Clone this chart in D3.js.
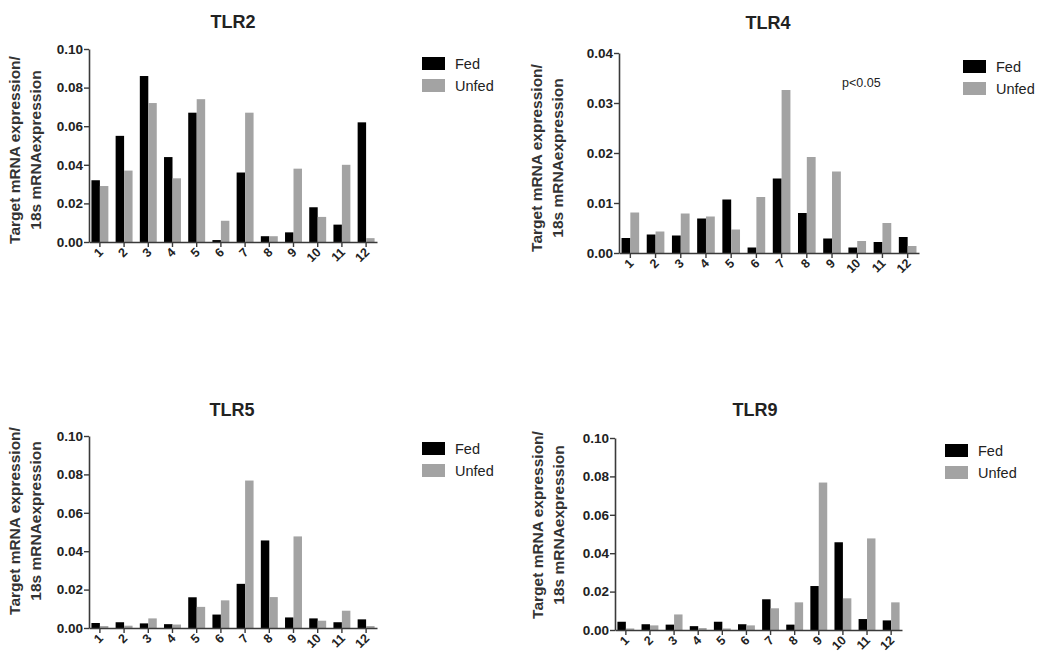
<!DOCTYPE html>
<html><head><meta charset="utf-8">
<script src="https://cdn.jsdelivr.net/npm/d3@7"></script>
<style>
body{margin:0;background:#fff;}
svg text{font-family:"Liberation Sans",Arial,sans-serif;}
</style></head>
<body>
<svg id="chart" width="1050" height="662"></svg>
<script>
const categories = ["1","2","3","4","5","6","7","8","9","10","11","12"];
const seriesNames = ["Fed","Unfed"];
const titles = ["TLR2","TLR4","TLR5","TLR9"];

const tlr2Fed   = [0.032,0.055,0.086,0.044,0.067,0.001,0.036,0.003,0.005,0.018,0.009,0.062];
const tlr2Unfed = [0.029,0.037,0.072,0.033,0.074,0.011,0.067,0.003,0.038,0.013,0.040,0.002];
const tlr4Fed   = [0.0030,0.0037,0.0035,0.0069,0.0107,0.0011,0.0149,0.0080,0.0029,0.0011,0.0022,0.0032];
const tlr4Unfed = [0.0081,0.0043,0.0079,0.0073,0.0047,0.0112,0.0326,0.0192,0.0163,0.0024,0.0060,0.0014];
const tlr5Fed   = [0.0026,0.0030,0.0024,0.0020,0.0160,0.0070,0.0230,0.0456,0.0055,0.0050,0.0030,0.0045];
const tlr5Unfed = [0.0010,0.0012,0.0050,0.0018,0.0110,0.0144,0.0768,0.0161,0.0477,0.0038,0.0090,0.0010];
const tlr9Fed   = [0.0043,0.0030,0.0028,0.0020,0.0043,0.0030,0.0160,0.0028,0.0229,0.0457,0.0057,0.0050];
const tlr9Unfed = [0.0008,0.0024,0.0081,0.0010,0.0008,0.0024,0.0113,0.0144,0.0768,0.0165,0.0477,0.0144];

const yTicks10 = [0,0.02,0.04,0.06,0.08,0.10];
const yTicks4  = [0,0.01,0.02,0.03,0.04];
const yLabelLines = ["Target mRNA expression/","18s mRNAexpression"];
const annotation = "p<0.05";

const colors = {Fed:"#000000", Unfed:"#a3a3a3"};
const axisColor = "#3a3a3a";

const panels = [
  {title:titles[0], fed:tlr2Fed, unfed:tlr2Unfed, yMax:0.10, ticks:yTicks10,
   x0:89, x1:377, y0:242, y1:49, titleX:233, titleY:28, labX:[15,36], labY:150,
   legX:422, legY:57},
  {title:titles[1], fed:tlr4Fed, unfed:tlr4Unfed, yMax:0.04, ticks:yTicks4,
   x0:619, x1:919, y0:253, y1:53, titleX:768, titleY:29, labX:[537,558], labY:158,
   legX:963, legY:60, note:true},
  {title:titles[2], fed:tlr5Fed, unfed:tlr5Unfed, yMax:0.10, ticks:yTicks10,
   x0:89, x1:377, y0:628, y1:436, titleX:232, titleY:416, labX:[15,36], labY:521,
   legX:422, legY:442},
  {title:titles[3], fed:tlr9Fed, unfed:tlr9Unfed, yMax:0.10, ticks:yTicks10,
   x0:615, x1:902, y0:630, y1:438, titleX:755, titleY:416, labX:[538,559], labY:525,
   legX:945, legY:444}
];

const svg = d3.select("#chart");

panels.forEach(p => {
  const g = svg.append("g");
  const x = d3.scaleBand().domain(categories).range([p.x0, p.x1]).paddingInner(0.3).paddingOuter(0.1);
  const xs = d3.scaleBand().domain(seriesNames).range([0, x.bandwidth()]);
  const y = d3.scaleLinear().domain([0, p.yMax]).range([p.y0, p.y1]);

  const rows = categories.map((c,i)=>({cat:c, Fed:p.fed[i], Unfed:p.unfed[i]}));
  const grp = g.selectAll("g.cat").data(rows).join("g")
    .attr("transform", d=>`translate(${x(d.cat)},0)`);
  grp.selectAll("rect").data(d=>seriesNames.map(s=>({s, v:d[s]}))).join("rect")
    .attr("x", d=>xs(d.s)).attr("width", xs.bandwidth())
    .attr("y", d=>y(d.v)).attr("height", d=>y(0)-y(d.v))
    .attr("fill", d=>colors[d.s]);

  // y axis
  const ya = g.append("g").attr("transform",`translate(${p.x0},0)`)
    .call(d3.axisLeft(y).tickValues(p.ticks).tickFormat(d3.format(".2f")).tickSize(5).tickSizeOuter(0));
  ya.select(".domain").attr("stroke",axisColor).attr("stroke-width",1.6);
  ya.selectAll(".tick line").attr("stroke",axisColor).attr("stroke-width",1.4);
  ya.selectAll(".tick text").attr("font-size",13.5).attr("font-weight","bold").attr("fill","#222")
    .attr("font-family","Liberation Sans, Arial, sans-serif").attr("x",-6);

  // x axis
  const xa = g.append("g").attr("transform",`translate(0,${p.y0})`)
    .call(d3.axisBottom(x).tickSize(5).tickSizeOuter(0));
  xa.select(".domain").attr("stroke",axisColor).attr("stroke-width",1.6);
  xa.selectAll(".tick line").attr("stroke",axisColor).attr("stroke-width",1.4);
  xa.selectAll(".tick text").attr("font-size",12.5).attr("font-weight","bold").attr("fill","#222")
    .attr("font-family","Liberation Sans, Arial, sans-serif")
    .attr("text-anchor","end").attr("dy",null).attr("y",0)
    .attr("transform","translate(4,11) rotate(-45)");

  // title
  g.append("text").attr("x",p.titleX).attr("y",p.titleY).attr("text-anchor","middle")
    .attr("font-size",18).attr("font-weight","bold").attr("fill","#222").text(p.title);

  // y label
  yLabelLines.forEach((t,i)=>{
    g.append("text").attr("transform",`translate(${p.labX[i]+5},${p.labY}) rotate(-90)`)
      .attr("text-anchor","middle").attr("font-size",15.5).attr("font-weight","bold")
      .attr("fill","#333").text(t);
  });

  // legend
  seriesNames.forEach((s,i)=>{
    g.append("rect").attr("x",p.legX).attr("y",p.legY+i*22).attr("width",23).attr("height",13)
      .attr("fill",colors[s]);
    g.append("text").attr("x",p.legX+33).attr("y",p.legY+i*22+11.5)
      .attr("font-size",14.5).attr("fill","#222").text(s);
  });

  if(p.note){
    g.append("text").attr("x",842).attr("y",87).attr("font-size",12.5).attr("fill","#222").text(annotation);
  }
});
</script>
</body></html>
